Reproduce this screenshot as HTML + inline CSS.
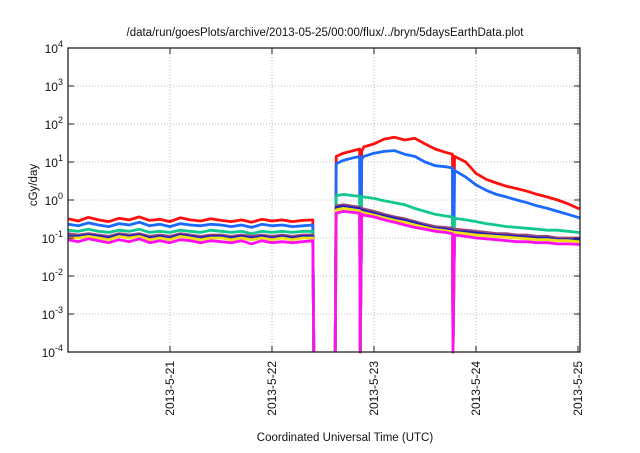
<!DOCTYPE html>
<html><head><meta charset="utf-8"><style>
body{margin:0;background:#fff;}
svg text{font-family:"Liberation Sans",sans-serif;fill:#111;}
</style></head><body>
<svg id="chart" width="640" height="448" xmlns="http://www.w3.org/2000/svg">
<text x="325" y="36" font-size="11.5" text-anchor="middle">/data/run/goesPlots/archive/2013-05-25/00:00/flux/../bryn/5daysEarthData.plot</text>
<text transform="translate(37,185) rotate(-90)" font-size="11.5" text-anchor="middle">cGy/day</text>
<text x="345" y="441" font-size="11.5" text-anchor="middle">Coordinated Universal Time (UTC)</text>
<g id="grid"></g><g id="series"></g><g id="axes"></g>
</svg>
<script>
const D = 1e-5, N = null;
const times = [0,0.1,0.2,0.3,0.4,0.5,0.6,0.7,0.8,0.9,1.0,1.1,1.2,1.3,1.4,1.5,1.6,1.7,1.8,1.9,2.0,2.1,2.2,2.3,2.4,
 2.41,2.5,2.62,2.63,2.7,2.8,2.86,2.865,2.88,2.9,
 3.0,3.1,3.2,3.3,3.4,3.5,3.6,3.7,3.77,3.775,3.79,3.9,
 4.0,4.1,4.2,4.3,4.4,4.5,4.6,4.7,4.8,4.9,5.0,5.02];
const red = [0.32,0.28,0.35,0.3,0.27,0.33,0.3,0.36,0.29,0.31,0.27,0.34,0.3,0.28,0.32,0.29,0.27,0.3,0.26,0.31,0.28,0.3,0.27,0.29,0.3,
 D,N,D,14,17,20,22,D,19,25, 30,40,45,38,42,30,22,18, 16,D,14,10, 5,3.5,2.8,2.3,2,1.7,1.4,1.2,1,0.8,0.6,0.6];
const blue = [0.23,0.21,0.25,0.22,0.2,0.24,0.22,0.26,0.21,0.23,0.2,0.24,0.22,0.21,0.23,0.22,0.2,0.22,0.19,0.23,0.21,0.22,0.2,0.21,0.22,
 D,N,D,9,11,13,14,D,12,14, 17,19,20,16,14,10,8,7.5, 7,D,6,4, 2.5,1.8,1.4,1.2,1,0.85,0.7,0.6,0.5,0.42,0.35,0.34];
const green = [0.16,0.15,0.17,0.15,0.14,0.16,0.15,0.17,0.14,0.15,0.14,0.16,0.15,0.14,0.16,0.15,0.14,0.15,0.13,0.15,0.14,0.15,0.14,0.15,0.15,
 D,N,D,1.3,1.4,1.3,1.25,D,1.2,1.2, 1.1,0.95,0.85,0.75,0.6,0.5,0.42,0.38, 0.36,D,0.33,0.3, 0.27,0.24,0.22,0.2,0.19,0.18,0.17,0.16,0.16,0.15,0.14,0.14];
const purple = [0.13,0.12,0.13,0.12,0.11,0.13,0.12,0.13,0.11,0.12,0.11,0.13,0.12,0.11,0.12,0.12,0.11,0.12,0.11,0.12,0.11,0.12,0.11,0.12,0.12,
 D,N,D,0.7,0.75,0.68,0.65,D,0.6,0.58, 0.5,0.42,0.36,0.32,0.27,0.23,0.2,0.19, 0.18,D,0.17,0.16, 0.15,0.14,0.13,0.13,0.12,0.12,0.11,0.11,0.1,0.1,0.1,0.1];
const navy = [0.11,0.11,0.12,0.11,0.1,0.12,0.11,0.12,0.1,0.11,0.1,0.12,0.11,0.1,0.11,0.11,0.1,0.11,0.1,0.11,0.1,0.11,0.1,0.11,0.11,
 D,N,D,0.63,0.68,0.62,0.59,D,0.55,0.52, 0.45,0.38,0.33,0.29,0.25,0.21,0.18,0.17, 0.16,D,0.15,0.145, 0.135,0.125,0.12,0.115,0.11,0.105,0.1,0.1,0.09,0.09,0.09,0.09];
const yellow = [0.1,0.1,0.11,0.1,0.09,0.11,0.1,0.11,0.09,0.1,0.09,0.11,0.1,0.09,0.1,0.1,0.09,0.1,0.09,0.1,0.09,0.1,0.09,0.1,0.1,
 D,N,D,0.55,0.6,0.55,0.52,D,0.48,0.46, 0.4,0.34,0.29,0.26,0.22,0.19,0.165,0.155, 0.145,D,0.14,0.13, 0.12,0.115,0.11,0.105,0.1,0.095,0.09,0.09,0.085,0.085,0.08,0.08];
const magenta = [0.09,0.08,0.095,0.085,0.075,0.09,0.08,0.095,0.075,0.085,0.075,0.09,0.085,0.075,0.085,0.08,0.075,0.085,0.07,0.085,0.075,0.08,0.075,0.08,0.085,
 D,N,D,0.45,0.5,0.47,0.45,D,0.42,0.4, 0.36,0.3,0.26,0.22,0.19,0.17,0.15,0.14, 0.13,D,0.12,0.11, 0.1,0.095,0.09,0.085,0.08,0.08,0.075,0.075,0.07,0.07,0.068,0.068];
const yTickExps = [-4,-3,-2,-1,0,1,2,3,4];
const xTickDays = [1,2,3,4,5];
const xTickLabels = ["2013-5-21","2013-5-22","2013-5-23","2013-5-24","2013-5-25"];

const L=68,R=580,T=48,B=352, X0=0, X1=5.02;
const xs = d => L + (d - X0) / (X1 - X0) * (R - L);
const ys = v => { let e = Math.log10(Math.max(v, 1e-4)); return B - (e + 4) / 8 * (B - T); };
const NS="http://www.w3.org/2000/svg";
function mk(tag, parent){const e=document.createElementNS(NS,tag);document.getElementById(parent).appendChild(e);return e;}

yTickExps.forEach(e=>{
  const y=ys(Math.pow(10,e));
  if(e>-4&&e<4){const g=mk('line','grid');
    
    
    g.setAttribute('x1',L);g.setAttribute('x2',R);g.setAttribute('y1',y);g.setAttribute('y2',y);
    g.setAttribute('stroke','#bbb');g.setAttribute('stroke-dasharray','1,2');g.setAttribute('stroke-width','1');}
  const tk=mk('path','axes');
  
  
  tk.setAttribute('d',`M${L},${y}h6M${R},${y}h-6`);tk.setAttribute('stroke','#222');
  const t=mk('text','axes');
  
  
  t.setAttribute('x',L-5);t.setAttribute('y',y+5);t.setAttribute('text-anchor','end');t.setAttribute('font-size','12');
  t.innerHTML=`10<tspan dy="-6" font-size="9">${e}</tspan>`;
});
xTickDays.forEach((d,i)=>{
  const x=xs(d);
  const g=mk('line','grid');
  
  
  g.setAttribute('x1',x);g.setAttribute('x2',x);g.setAttribute('y1',T);g.setAttribute('y2',B);
  g.setAttribute('stroke','#bbb');g.setAttribute('stroke-dasharray','1,2');
  const tk=mk('path','axes');
  
  
  tk.setAttribute('d',`M${x},${B}v-6M${x},${T}v6`);tk.setAttribute('stroke','#222');
  const t=mk('text','axes');
  
  
  t.setAttribute('transform',`translate(${x+4},${B+9}) rotate(-90)`);t.setAttribute('text-anchor','end');t.setAttribute('font-size','12');
  t.textContent=xTickLabels[i];
});
const frame=mk('rect','axes');


frame.setAttribute('x',L);frame.setAttribute('y',T);frame.setAttribute('width',R-L);frame.setAttribute('height',B-T);
frame.setAttribute('fill','none');frame.setAttribute('stroke','#222');frame.setAttribute('stroke-width','1.3');

const seriesList=[['red-series',red,'#ff1010'],['blue-series',blue,'#1a6aff'],['green-series',green,'#10c890'],
 ['purple-series',purple,'#9a4a78'],['navy-series',navy,'#2020c0'],['yellow-series',yellow,'#f0e010'],['magenta-series',magenta,'#ff10f0']];
seriesList.forEach(([name,vals,col])=>{
  let d='',pen=false;
  vals.forEach((v,i)=>{
    if(v===null){pen=false;return;}
    d+=(pen?'L':'M')+xs(times[i]).toFixed(1)+','+ys(v).toFixed(1);pen=true;
  });
  const p=mk('path','series');
  
  
  p.setAttribute('d',d);p.setAttribute('fill','none');p.setAttribute('stroke',col);p.setAttribute('stroke-width','2.8');
  p.setAttribute('stroke-linejoin','round');
});
</script>
</body></html>
